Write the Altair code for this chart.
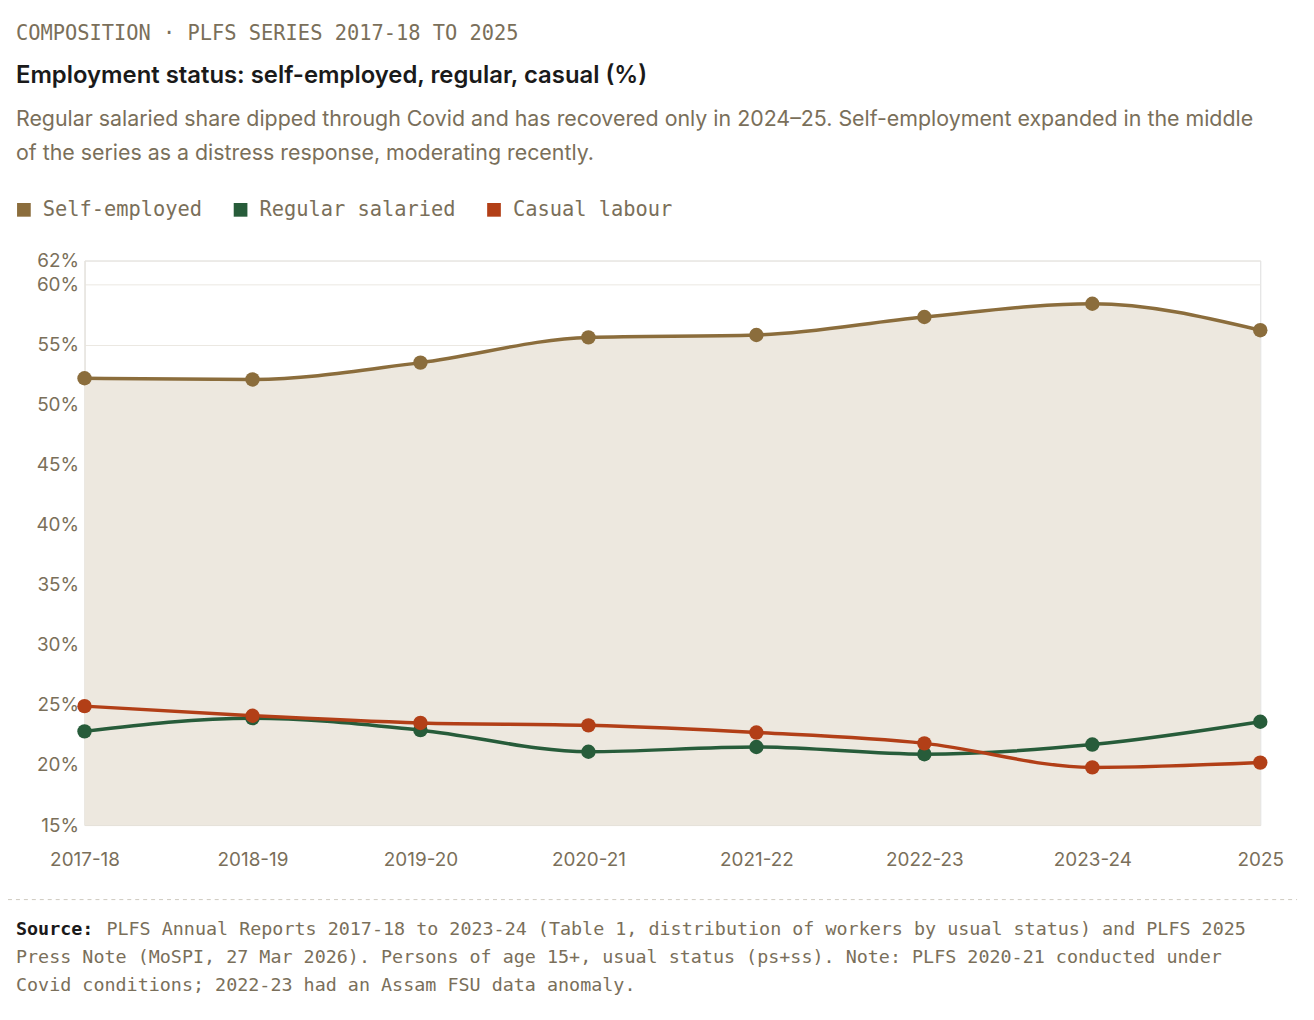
import altair as alt
import pandas as pd

years = ["2017-18", "2018-19", "2019-20", "2020-21", "2021-22", "2022-23", "2023-24", "2025"]
self_employed = [52.2, 52.1, 53.5, 55.6, 55.8, 57.3, 58.4, 56.2]
regular = [22.8, 23.9, 22.9, 21.1, 21.5, 20.9, 21.7, 23.6]
casual = [24.9, 24.1, 23.5, 23.3, 22.7, 21.8, 19.8, 20.2]

series = ["Self-employed", "Regular salaried", "Casual labour"]
colors = ["#8B6D3C", "#275C3A", "#B23F17"]
y_ticks = [15, 20, 25, 30, 35, 40, 45, 50, 55, 60, 62]

kicker_text = "COMPOSITION \u00b7 PLFS SERIES 2017-18 TO 2025"
title_text = "Employment status: self-employed, regular, casual (%)"
subtitle_lines = [
    "Regular salaried share dipped through Covid and has recovered only in 2024\u201325. Self-employment expanded in the middle",
    "of the series as a distress response, moderating recently.",
]
source_lines = [
    "PLFS Annual Reports 2017-18 to 2023-24 (Table 1, distribution of workers by usual status) and PLFS 2025",
    "Press Note (MoSPI, 27 Mar 2026). Persons of age 15+, usual status (ps+ss). Note: PLFS 2020-21 conducted under",
    "Covid conditions; 2022-23 had an Assam FSU data anomaly.",
]

MONO = "DejaVu Sans Mono"
SANS = "Inter"
MUTED = "#7a6f5a"
W, H = 1183, 568
L = -69  # left text edge relative to plot origin

long = pd.DataFrame(
    [(y, s, v) for s, vals in zip(series, [self_employed, regular, casual]) for y, v in zip(years, vals)],
    columns=["year", "series", "value"],
)
area_df = pd.DataFrame({"year": years, "value": self_employed})

x = alt.X("year:N", sort=years, title=None, scale=alt.Scale(type="point", padding=0),
          axis=alt.Axis(labelAngle=0, labelFont=SANS, labelFontSize=19, labelColor=MUTED,
                        domainColor="#e6e2da", ticks=False, labelPadding=26, grid=False))
y_scale = alt.Scale(domain=[15, 62], nice=False, zero=False)
y_axis = alt.Axis(values=y_ticks, labelExpr="datum.value + '%'", labelFont=SANS, labelFontSize=19,
                  labelColor=MUTED, gridColor="#ebe8e2", domainColor="#e6e2da", ticks=False,
                  labelPadding=6)
cscale = alt.Scale(domain=series, range=colors)

area = alt.Chart(area_df).mark_area(color="#EDE8DF", interpolate="monotone").encode(
    x=x, y=alt.Y("value:Q", scale=y_scale, axis=y_axis, title=None), y2=alt.datum(15))
lines = alt.Chart(long).mark_line(strokeWidth=3.5, interpolate="monotone").encode(
    x=x, y=alt.Y("value:Q", scale=y_scale), color=alt.Color("series:N", scale=cscale, legend=None))
points = alt.Chart(long).mark_circle(size=210, opacity=1).encode(
    x=x, y=alt.Y("value:Q", scale=y_scale), color=alt.Color("series:N", scale=cscale, legend=None))


def label(text, px, py, font=MONO, size=18.5, color=MUTED, weight="normal"):
    return alt.Chart(pd.DataFrame({"t": [text]})).mark_text(
        align="left", baseline="middle", font=font, fontSize=size, color=color, fontWeight=weight
    ).encode(text="t:N", x=alt.value(px), y=alt.value(py))


texts = [
    label(kicker_text, L, -228, size=20.5),
    label(title_text, L, -186, font=SANS, size=24, color="#1a1a1a", weight=600),
    label(subtitle_lines[0], L, -141, font=SANS, size=21.5),
    label(subtitle_lines[1], L, -107, font=SANS, size=21.5),
    label("Source:", L, 673, size=18.5, color="#1a1a1a", weight="bold"),
    label(source_lines[0], 22, 673),
    label(source_lines[1], L, 701),
    label(source_lines[2], L, 729),
]

# legend: swatches and labels
leg_x = [-69, 149, 404]
for name, col, lx in zip(series, colors, leg_x):
    texts.append(alt.Chart(pd.DataFrame({"t": [name]})).mark_square(size=190, color=col, opacity=1)
                 .encode(x=alt.value(lx + 8), y=alt.value(-51)))
    texts.append(label(name, lx + 27, -51, size=20.5))

rule = alt.Chart(pd.DataFrame({"a": [0]})).mark_rule(strokeDash=[4, 4], color="#cfcac0").encode(
    x=alt.value(-77), x2=alt.value(W + 37), y=alt.value(643))

chart = alt.layer(area, lines, points, rule, *texts).properties(
    width=W, height=H, autosize=alt.AutoSizeParams(type="none"),
    padding={"left": 77, "top": 251, "right": 46, "bottom": 180},
).configure_view(strokeWidth=0).configure(background="white")

chart.save("out.html", embed_options={"renderer": "svg", "actions": False})
